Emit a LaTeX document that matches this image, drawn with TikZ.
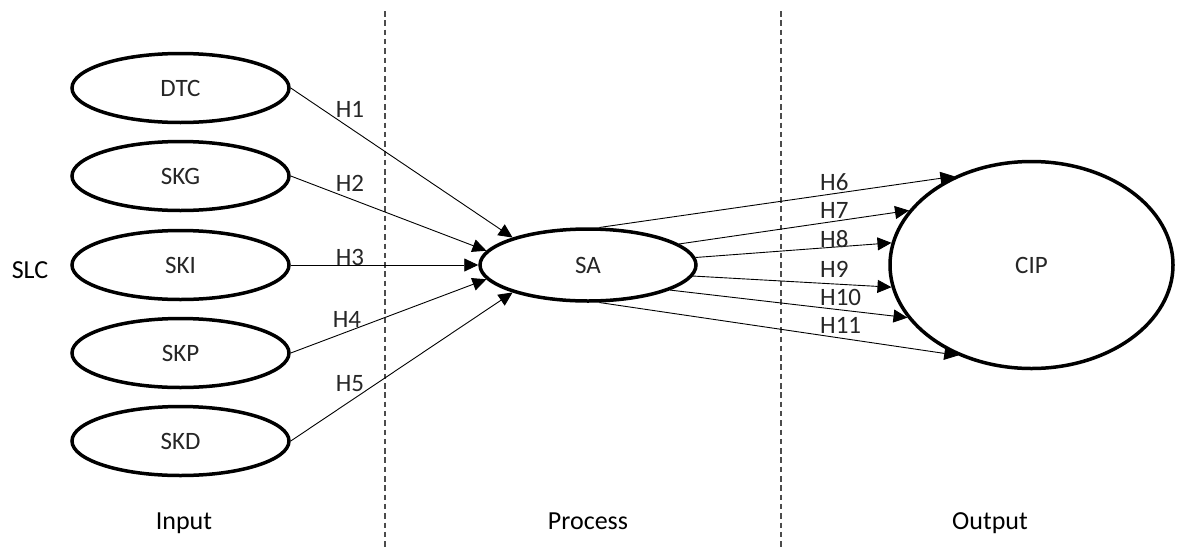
\documentclass[tikz,border=0pt]{standalone}
\usepackage{fontspec}
\setmainfont{Carlito}
\usetikzlibrary{shapes.geometric,arrows.meta}
\tikzset{
  oval/.style={ellipse, draw=black, line width=3.5pt, fill=white, inner sep=0pt,
    minimum width=217pt, minimum height=69pt, font=\fontsize{25}{28}\selectfont, text=black!85},
  link/.style={line width=0.9pt, -{Triangle[length=14pt,width=13pt]}},
  hlab/.style={anchor=base, inner sep=0pt, font=\fontsize{25}{28}\selectfont, text=black!85},
  hlabw/.style={anchor=base west, inner sep=0pt, font=\fontsize{25}{28}\selectfont, text=black!85},
  sectlabel/.style={anchor=base, inner sep=0pt, font=\fontsize{26}{30}\selectfont},
  divider/.style={draw=black!70, line width=1.6pt, dash pattern=on 5.5pt off 3.8pt}
}
\begin{document}
\begin{tikzpicture}[x=1pt,y=-1pt]
\useasboundingbox (0,0) rectangle (1177,552);
% dividers
\coordinate (d1t) at (385,11); \coordinate (d1b) at (385,549);
\coordinate (d2t) at (781,11); \coordinate (d2b) at (781,549);
\draw[divider] (d1t) -- (d1b);
\draw[divider] (d2t) -- (d2b);
% nodes
\node[oval] (DTC) at (180.5,88) {DTC};
\node[oval] (SKG) at (180.5,176) {SKG};
\node[oval] (SKI) at (180.5,265) {SKI};
\node[oval] (SKP) at (180.5,353) {SKP};
\node[oval] (SKD) at (180.5,441) {SKD};
\node[oval, minimum width=216pt, minimum height=72pt] (SA) at (588,265) {SA};
\node[oval, minimum width=283pt, minimum height=207pt] (CIP) at (1031.5,265) {CIP};
% side labels
\node[sectlabel] (SLC) at (30,278) {SLC};
\node[sectlabel] (IN) at (184,529) {Input};
\node[sectlabel] (PR) at (588,529) {Process};
\node[sectlabel] (OUT) at (990,529) {Output};
% input links
\draw[link] (DTC.east) -- (SA.160);
\draw[link] (SKG.east) -- (SA.172);
\draw[link] (SKI.east) -- (SA.west);
\draw[link] (SKP.east) -- (SA.188);
\draw[link] (SKD.east) -- (SA.200);
% output links
\draw[link] (SA.73) -- (CIP.131);
\draw[link] (SA.13) -- (CIP.156);
\draw[link] (SA.4) -- (CIP.171);
\draw[link] (SA.-6) -- (CIP.189);
\draw[link] (SA.-17) -- (CIP.203);
\draw[link] (SA.-73) -- (CIP.231);
% hypothesis labels
\node[hlab] (H1) at (350,117) {H1};
\node[hlab] (H2) at (350,191) {H2};
\node[hlab] (H3) at (350,265) {H3};
\node[hlab] (H4) at (347,327) {H4};
\node[hlab] (H5) at (350,391) {H5};
\node[hlabw] (H6) at (820,190) {H6};
\node[hlabw] (H7) at (820,218) {H7};
\node[hlabw] (H8) at (820,247) {H8};
\node[hlabw] (H9) at (820,277) {H9};
\node[hlabw] (H10) at (820,305) {H10};
\node[hlabw] (H11) at (820,333) {H11};
\end{tikzpicture}
\end{document}
